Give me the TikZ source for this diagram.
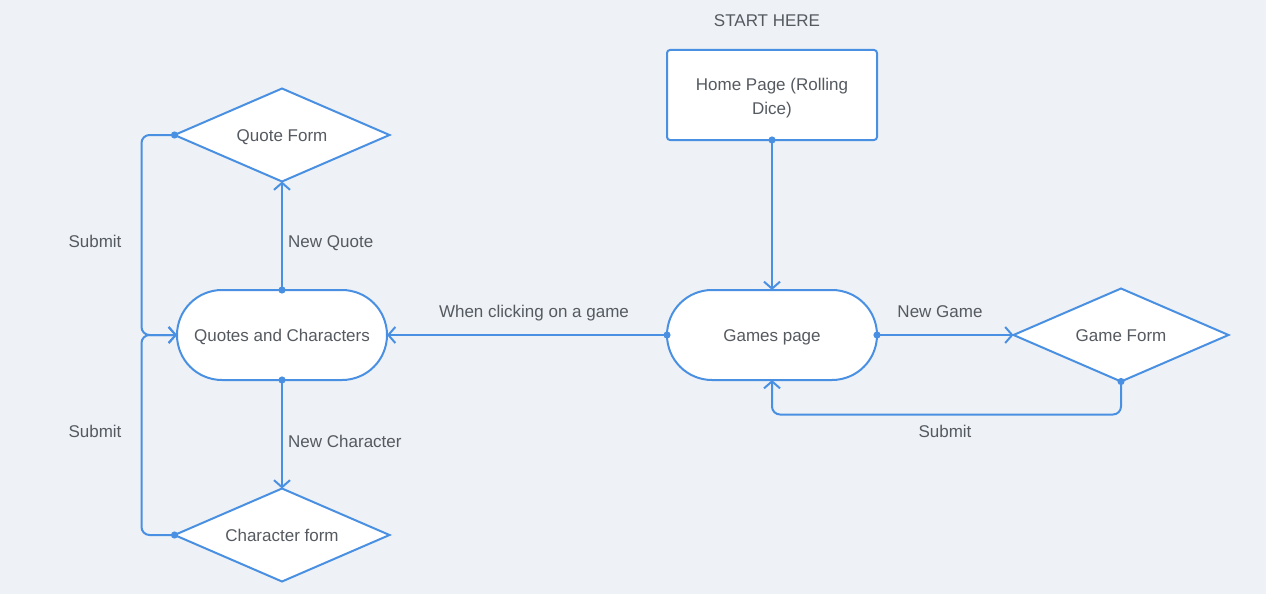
\documentclass[tikz,border=0pt]{standalone}
\usepackage{fontspec}
\setmainfont{Liberation Sans}
\usetikzlibrary{shapes.geometric,arrows.meta,positioning}

\definecolor{flowblue}{HTML}{4A90E2}
\definecolor{flowtext}{HTML}{555A61}
\definecolor{flowbg}{HTML}{EEF2F6}

\tikzset{
  base/.style={draw=flowblue, line width=2pt, fill=white, text=flowtext,
    font=\fontsize{17}{24}\selectfont, inner sep=0pt, outer sep=0pt,
    text height=12pt, text depth=0pt},
  pill/.style={base, rectangle, rounded corners=45pt, minimum width=210pt, minimum height=90pt},
  page/.style={base, rectangle, rounded corners=3pt, minimum width=210pt, minimum height=90pt,
    align=center, text height=38pt, text depth=0pt},
  form/.style={base, diamond, aspect=2.3, minimum width=215pt, minimum height=93pt},
  lbl/.style={text=flowtext, font=\fontsize{17}{24}\selectfont, inner sep=0pt,
    text height=12pt, text depth=0pt},
  link/.style={draw=flowblue, line width=2pt, rounded corners=8pt, shorten <=-3.5pt,
    {Circle[length=7pt]}-{Straight Barb[length=7pt,width=16pt,line width=2pt]}},
}

\begin{document}
\begin{tikzpicture}[x=1pt, y=-1pt]
  \fill[flowbg] (0,0) rectangle (1266,594);
  \useasboundingbox (0,0) rectangle (1266,594);

  % main nodes
  \node[pill] (games) at (772,335) {Games page};
  \node[page] (home) at (772,95) {Home Page (Rolling\\Dice)};
  \node[lbl] (start) at (767,21) {START HERE};
  \node[form] (gameform) at (1121,335) {Game Form};
  \node[pill] (quotes) at (282,335) {Quotes and Characters};
  \node[form] (quoteform) at (282,135) {Quote Form};
  \node[form] (charform) at (282,535) {Character form};

  % labels
  \node[lbl] (lclick) at (534,311) {When clicking on a game};
  \node[lbl] (lnewgame) at (940,311) {New Game};
  \node[lbl] (lsubgame) at (945,431) {Submit};
  \node[lbl, anchor=west] (lnewquote) at (288,241) {New Quote};
  \node[lbl, anchor=west] (lnewchar) at (288,441) {New Character};
  \node[lbl] (lsubquote) at (95,241) {Submit};
  \node[lbl] (lsubchar) at (95,431) {Submit};

  % connectors
  \draw[link] (home.south) -- (games.north);
  \draw[link] (games.west) -- (quotes.east);
  \draw[link] (games.east) -- (gameform.west);
  \draw[link] (gameform.south) -- ++(0,33) -| (games.south);
  \draw[link] (quotes.north) -- (quoteform.south);
  \draw[link] (quotes.south) -- (charform.north);
  \draw[link] (quoteform.west) -- ++(-33,0) |- (quotes.west);
  \draw[link] (charform.west) -- ++(-33,0) |- (quotes.west);
\end{tikzpicture}
\end{document}
